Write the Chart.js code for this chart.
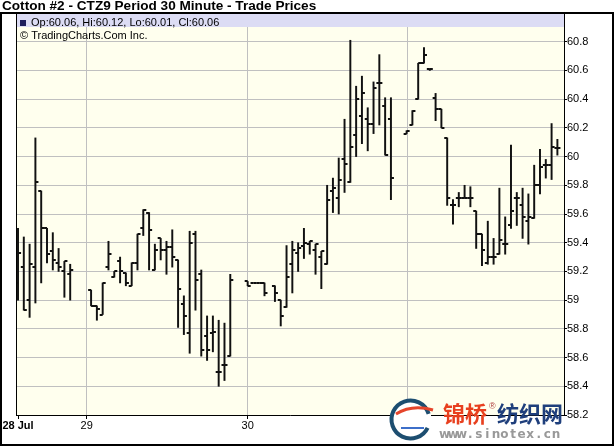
<!DOCTYPE html>
<html>
<head>
<meta charset="utf-8">
<script src="https://cdn.jsdelivr.net/npm/chart.js@4.4.1/dist/chart.umd.min.js"></script>
<style>
  html, body { margin: 0; padding: 0; background: #fff; }
  canvas { display: block; }
</style>
</head>
<body>
<canvas id="priceChart" width="614" height="446"></canvas>
<script>
// --- 1. DATA (half-hour slots counted from the first bar on 28 Jul) ---
const times = [
  0, 1, 2, 3, 4, 5, 6, 7, 8, 9,
  12.6, 13.6, 14.6, 15.6, 16.6, 17.6, 18.6, 19.6, 20.6, 21.6, 22.6, 23.6, 24.6,
  25.6, 26.6, 27.6, 28.6, 29.6, 30.6, 31.6, 32.6, 33.6, 34.6, 35.6, 36.6,
  39.6, 40.6, 41.6, 42.5, 44.3, 45.3, 46.3, 47.3, 48.3, 49.3, 50.3, 51.3, 52.3,
  53.3, 54.3, 55.3, 56.3, 57.3, 58.3, 59.3, 60.3, 61.3, 62.3, 63.3, 64.3,
  67, 68, 69, 70, 71, 72, 73, 74, 75, 76, 77, 78, 79, 80, 81, 82, 83, 84, 85,
  86, 87, 88, 89, 90, 91, 92, 93
];
const opens = [
  59.12, 59.23, 59.00, 59.23, 59.76, 59.50, 59.34, 59.26, 59.20, 59.18,
  59.07, 58.96, 58.90, 59.23, 59.16, 59.27, 59.19, 59.10, 59.26, 59.50, 59.61, 59.21, 59.43,
  59.35, 59.37, 59.28, 58.97, 58.77, 59.46, 59.18, 58.75, 58.77, 58.50, 58.55, 58.61,
  59.13, 59.12, 59.12, 59.12, 59.10, 59.00, 58.95, 59.25, 59.33, 59.38, 59.39, 59.35, 59.30,
  59.25, 59.76, 59.71, 59.98, 59.82, 60.15, 60.28, 60.26, 60.23, 60.51, 60.35, 60.26,
  60.16, 60.22, 60.40, 60.65, 60.61, 60.41, 60.33, 60.13, 59.66, 59.71, 59.71, 59.71, 59.62,
  59.46, 59.26, 59.30, 59.32, 59.39, 59.52, 59.71, 59.66, 59.55, 59.57, 59.80, 59.94, 59.94, 60.06
];
const highs = [
  59.50, 59.44, 59.39, 60.13, 59.76, 59.50, 59.47, 59.36, 59.27, 59.25,
  59.07, 58.96, 59.12, 59.41, 59.20, 59.30, 59.19, 59.26, 59.46, 59.63, 59.61, 59.39, 59.43,
  59.41, 59.49, 59.28, 59.03, 59.48, 59.48, 59.21, 58.89, 58.89, 58.86, 58.84, 59.18,
  59.13, 59.12, 59.12, 59.12, 59.10, 59.00, 59.38, 59.41, 59.40, 59.50, 59.41, 59.39, 59.34,
  59.80, 59.85, 59.99, 60.26, 60.81, 60.49, 60.56, 60.34, 60.52, 60.71, 60.41, 60.41,
  60.18, 60.32, 60.65, 60.76, 60.61, 60.44, 60.33, 60.13, 59.70, 59.75, 59.80, 59.79, 59.62,
  59.46, 59.55, 59.43, 59.78, 59.58, 60.08, 59.75, 59.78, 59.74, 59.94, 60.05, 59.98, 60.23, 60.12
];
const lows = [
  59.00, 58.93, 58.88, 58.98, 59.12, 59.26, 59.21, 59.20, 59.02, 59.00,
  58.96, 58.86, 58.90, 59.21, 59.16, 59.12, 59.10, 59.10, 59.21, 59.45, 59.21, 59.21, 59.28,
  59.18, 59.23, 58.81, 58.76, 58.63, 58.93, 58.61, 58.58, 58.64, 58.40, 58.44, 58.61,
  59.10, 59.12, 59.12, 59.03, 58.99, 58.82, 58.95, 59.05, 59.20, 59.29, 59.32, 59.18, 59.08,
  59.25, 59.61, 59.60, 59.75, 59.82, 60.00, 60.09, 60.04, 60.16, 60.22, 60.01, 59.70,
  60.16, 60.22, 60.40, 60.65, 60.60, 60.25, 60.20, 59.66, 59.53, 59.65, 59.71, 59.65, 59.36,
  59.24, 59.25, 59.25, 59.32, 59.32, 59.50, 59.52, 59.43, 59.39, 59.57, 59.74, 59.85, 59.84, 60.01
];
const closes = [
  59.33, 58.93, 59.25, 59.82, 59.50, 59.32, 59.28, 59.23, 59.27, 59.21,
  58.96, 58.94, 59.12, 59.32, 59.20, 59.20, 59.12, 59.26, 59.46, 59.63, 59.49, 59.35, 59.35,
  59.37, 59.30, 59.08, 58.89, 59.40, 59.14, 58.65, 58.65, 58.78, 58.50, 58.55, 59.14,
  59.10, 59.12, 59.12, 59.05, 59.05, 58.89, 59.16, 59.35, 59.36, 59.40, 59.41, 59.39, 59.34,
  59.70, 59.78, 59.84, 59.95, 60.07, 60.40, 60.44, 60.23, 60.48, 60.51, 60.01, 59.85,
  60.18, 60.32, 60.65, 60.71, 60.61, 60.33, 60.20, 59.71, 59.66, 59.71, 59.71, 59.71, 59.46,
  59.35, 59.30, 59.30, 59.42, 59.39, 59.62, 59.71, 59.58, 59.58, 59.80, 59.93, 59.94, 60.07, 60.06
];
const dayTicks = [0, 11.85, 39.6, 67.1];
const dayLabels = ['28 Jul', '29', '30', '31'];
const priceTicks = [58.2, 58.4, 58.6, 58.8, 59, 59.2, 59.4, 59.6, 59.8, 60, 60.2, 60.4, 60.6, 60.8, 61];

const FONT = "'Liberation Sans', Arial, sans-serif";

// --- 2. OPEN / CLOSE TICK MARKS ---
function tickImage(side) {
    const c = document.createElement('canvas');
    c.width = 8;
    c.height = 2;
    const g = c.getContext('2d');
    g.fillStyle = '#111';
    g.fillRect(side === 'left' ? 1 : 4, 0, 3, 2);
    return c;
}

// --- 3. FRAME, HEADER AND WATERMARK ---
const chrome = {
    id: 'chrome',
    beforeDraw(c) {
        const { ctx, chartArea: a } = c;
        ctx.save();
        ctx.fillStyle = '#fff';
        ctx.fillRect(0, 0, c.width, c.height);
        ctx.fillStyle = '#ffffee';
        ctx.fillRect(a.left, a.top, a.right - a.left, a.bottom - a.top);
        ctx.restore();
    },
    beforeDatasetsDraw(c) {
        const { ctx, chartArea: a } = c;
        ctx.save();
        ctx.fillStyle = '#dcdcf4';
        ctx.fillRect(a.left + 1, a.top + 1, a.right - a.left - 1, 13);
        ctx.fillStyle = '#1c1c5c';
        ctx.fillRect(20, 20, 6, 6);
        ctx.fillStyle = '#000';
        ctx.font = '11px ' + FONT;
        ctx.textBaseline = 'middle';
        ctx.fillText('Op:60.06, Hi:60.12, Lo:60.01, Cl:60.06', 31, 23);
        ctx.fillText('\u00a9 TradingCharts.Com Inc.', 20, 35.5);
        ctx.restore();
    },
    afterDraw(c) {
        const { ctx, chartArea: a } = c;
        ctx.save();
        ctx.fillStyle = '#000';
        ctx.fillRect(a.left, a.top, 1, a.bottom - a.top);
        ctx.strokeStyle = '#000';
        ctx.lineWidth = 2;
        ctx.strokeRect(1, 13, 612, 432);
        ctx.font = 'bold 13.6px ' + FONT;
        ctx.textBaseline = 'middle';
        ctx.fillText('Cotton #2 - CTZ9 Period 30 Minute - Trade Prices', 2, 6.5);

        // sinotex watermark
        ctx.beginPath();
        ctx.arc(410.5, 419.5, 21, 0, Math.PI * 2);
        ctx.fillStyle = '#fff';
        ctx.fill();
        ctx.beginPath();
        ctx.arc(410.5, 419.5, 19, 0.45, Math.PI * 2 - 0.3);
        ctx.strokeStyle = '#1d4e70';
        ctx.lineWidth = 4;
        ctx.stroke();
        ctx.beginPath();
        ctx.moveTo(396, 414);
        ctx.quadraticCurveTo(412, 404, 433, 410);
        ctx.strokeStyle = '#e5452b';
        ctx.lineWidth = 3;
        ctx.stroke();
        ctx.beginPath();
        ctx.moveTo(401, 428);
        ctx.lineTo(424, 428);
        ctx.strokeStyle = '#3d6fc9';
        ctx.lineWidth = 2;
        ctx.stroke();

        ctx.font = "bold 22px 'Noto Sans CJK SC', sans-serif";
        ctx.fillStyle = '#e8401f';
        ctx.fillText('锦桥', 443, 414);
        ctx.fillStyle = '#1f3f7c';
        ctx.fillText('纺织网', 497, 414);
        ctx.font = '9px ' + FONT;
        ctx.fillStyle = '#b04040';
        ctx.fillText('®', 489, 407);
        ctx.font = "bold 12px 'DejaVu Sans', sans-serif";
        ctx.fillStyle = '#999';
        ctx.textAlign = 'center';
        const url = 'www.sinotex.cn';
        for (let i = 0; i < url.length; i++) {
            ctx.fillText(url[i], 444.5 + i * 8.57, 434.5);
        }
        ctx.restore();
    }
};

// --- 4. CHART ---
const ctx = document.getElementById('priceChart').getContext('2d');

const chart = new Chart(ctx, {
    type: 'bar',
    data: {
        datasets: [
            {
                label: 'High-Low',
                data: times.map((t, i) => ({ x: t, y: [lows[i], highs[i]] })),
                backgroundColor: '#111',
                borderWidth: 0,
                barThickness: 1.3,
                grouped: false
            },
            {
                type: 'scatter',
                label: 'Open',
                data: times.map((t, i) => ({ x: t, y: opens[i] })),
                pointStyle: tickImage('left'),
                pointRadius: 1,
                pointHoverRadius: 1
            },
            {
                type: 'scatter',
                label: 'Close',
                data: times.map((t, i) => ({ x: t, y: closes[i] })),
                pointStyle: tickImage('right'),
                pointRadius: 1,
                pointHoverRadius: 1
            }
        ]
    },
    options: {
        responsive: false,
        animation: false,
        events: [],
        layout: { padding: { left: 16, top: 13, right: 0, bottom: 0 } },
        scales: {
            x: {
                type: 'linear',
                min: -0.345,
                max: 94.14,
                offset: false,
                afterBuildTicks: (s) => { s.ticks = dayTicks.map(v => ({ value: v })); },
                afterFit: (s) => { s.height = 31; },
                ticks: {
                    autoSkip: false,
                    maxRotation: 0,
                    padding: 0,
                    color: '#000',
                    callback: (v, i) => dayLabels[i],
                    font: (c) => ({ family: FONT, size: 11, weight: c.index === 0 ? 'bold' : 'normal' })
                },
                grid: {
                    offset: false,
                    color: (c) => c.index === 0 ? 'rgba(0,0,0,0)' : '#c0c0c0',
                    tickColor: '#000',
                    tickLength: 4
                },
                border: { color: '#000', width: 1 }
            },
            y: {
                position: 'right',
                min: 58.2,
                max: 61,
                afterBuildTicks: (s) => { s.ticks = priceTicks.map(v => ({ value: v })); },
                afterFit: (s) => { s.width = 50; },
                ticks: {
                    padding: 0,
                    color: '#000',
                    font: { family: FONT, size: 11 },
                    callback: (v) => v === 61 ? '' : String(v)
                },
                grid: { color: '#c0c0c0', tickColor: '#000', tickLength: 3 },
                border: { color: '#000', width: 1 }
            }
        },
        plugins: {
            legend: { display: false },
            tooltip: { enabled: false },
            title: { display: false }
        }
    },
    plugins: [chrome]
});
</script>
</body>
</html>
